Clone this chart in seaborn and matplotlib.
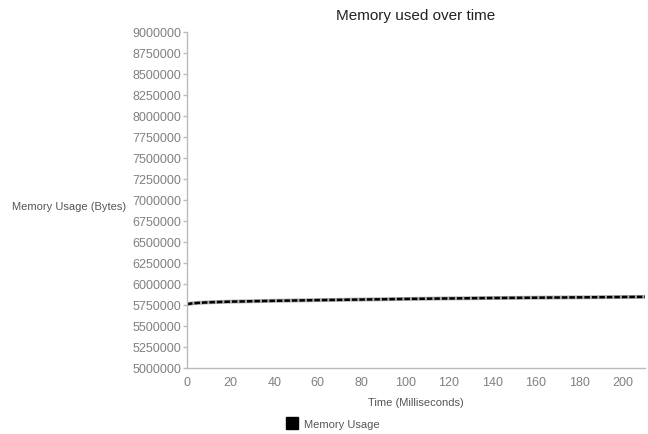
import numpy as np
import pandas as pd
import matplotlib
matplotlib.use("Agg")
import matplotlib.pyplot as plt
import seaborn as sns
from matplotlib.lines import Line2D
from matplotlib.ticker import FuncFormatter

# data
time_ms = [0, 2, 5, 10, 20, 30, 40, 60, 80, 100, 120, 140, 160, 180, 200, 210]
memory_bytes = [5760000, 5768000, 5775000, 5782000, 5790000, 5795000, 5800000,
                5808000, 5815000, 5822000, 5828000, 5833000, 5837000, 5841000,
                5845000, 5847000]

df = pd.DataFrame({"Time": time_ms, "Memory": memory_bytes})

sns.set_style("white")
plt.rcParams['font.family'] = ['Liberation Sans', 'DejaVu Sans']

fig = plt.figure(figsize=(6.48, 4.35), dpi=100)
ax = fig.add_axes([187 / 648, 1 - 369 / 435, (645 - 187) / 648, (369 - 33) / 435])

# grey halo + black dashes, like the original line
sns.lineplot(data=df, x="Time", y="Memory", ax=ax, color="#aaaaaa", linewidth=2.8)
sns.lineplot(data=df, x="Time", y="Memory", ax=ax, color="black", linewidth=1.8,
             linestyle=(0, (2.2, 0.8)))

ax.set_xlim(0, 210)
ax.set_ylim(5000000, 9000000)
ax.set_xticks(range(0, 201, 20))
ax.set_yticks(range(5000000, 9000001, 250000))
ax.yaxis.set_major_formatter(FuncFormatter(lambda v, p: f"{int(v)}"))

for s in ["top", "right"]:
    ax.spines[s].set_visible(False)
for s in ["left", "bottom"]:
    ax.spines[s].set_color("#bbbbbb")
    ax.spines[s].set_linewidth(1)
ax.tick_params(axis="y", which="major", direction="out", length=3, width=1,
               color="#bbbbbb", labelcolor="#808080", labelsize=9, pad=1, left=True)
ax.tick_params(axis="x", which="major", length=0, labelcolor="#808080",
               labelsize=9, pad=6, bottom=False)

ax.set_xlabel("Time (Milliseconds)", fontsize=8, color="#555555", labelpad=6)
ax.set_ylabel("")
fig.text(12 / 648, 1 - 207 / 435, "Memory Usage (Bytes)", fontsize=8,
         color="#555555", ha="left", va="center")
fig.text(416 / 648, 1 - 16 / 435, "Memory used over time", fontsize=11,
         color="#222222", ha="center", va="center")

handle = Line2D([], [], marker="s", color="none", markerfacecolor="black",
                markeredgecolor="black", markersize=9)
fig.legend([handle], ["Memory Usage"], loc="center left", bbox_to_anchor=(276 / 648, 1 - 425 / 435),
           frameon=False, fontsize=8, labelcolor="#555555", handletextpad=0.6,
           handlelength=1.0)

fig.savefig("out.png", dpi=100)
